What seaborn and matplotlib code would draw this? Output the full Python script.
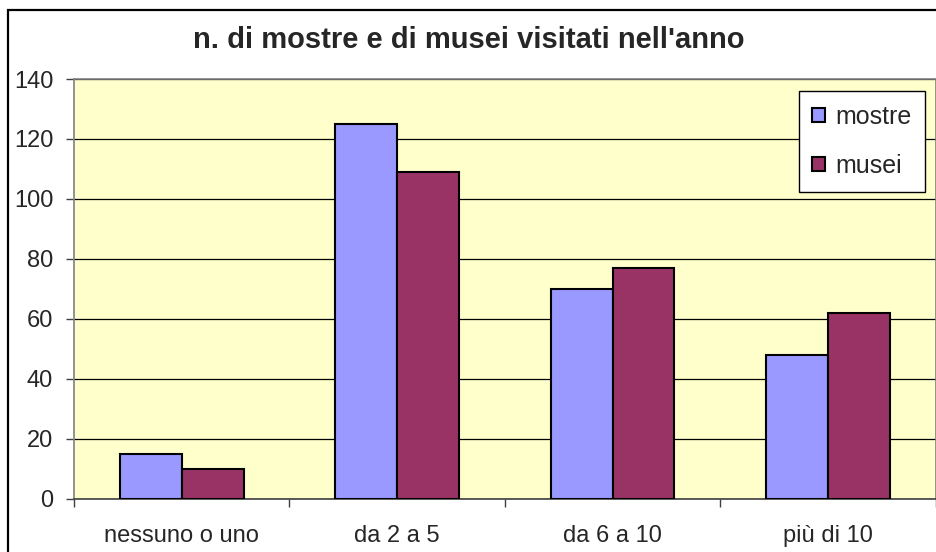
import numpy as np
import pandas as pd
import matplotlib
matplotlib.use("Agg")
import matplotlib.pyplot as plt
import matplotlib.patches as mpatches
import seaborn as sns

# data
categories = ["nessuno o uno", "da 2 a 5", "da 6 a 10", "più di 10"]
mostre = [15, 125, 70, 48]
musei = [10, 109, 77, 62]
series_names = ["mostre", "musei"]
y_ticks = [0, 20, 40, 60, 80, 100, 120, 140]

sns.set_style("white")
plt.rcParams['font.family'] = ['Liberation Sans', 'DejaVu Sans']

df = pd.DataFrame({
    'categoria': categories * 2,
    'valore': mostre + musei,
    'serie': [series_names[0]] * len(categories) + [series_names[1]] * len(categories),
})

W, H = 937, 552
fig = plt.figure(figsize=(W / 100, H / 100), dpi=100)
ax = fig.add_axes([74 / W, 1 - 498.7 / H, (935.7 - 74) / W, (498.7 - 79) / H])

# outer chart frame (Excel style)
fig.patches.append(mpatches.Rectangle((8 / W, -0.05), 1.2, 1 - 10 / H + 0.05,
                                      transform=fig.transFigure, fill=False,
                                      edgecolor='black', linewidth=1.6))

ax.set_facecolor('#FFFFCC')
sns.barplot(data=df, x='categoria', y='valore', hue='serie', ax=ax,
            palette=['#9999FF', '#993366'], edgecolor='black', linewidth=1.5,
            width=0.575, saturation=1, zorder=3)

ax.set_xlim(-0.5, len(categories) - 0.5)
ax.set_ylim(0, 140)
ax.set_yticks(y_ticks)
ax.yaxis.grid(True, color='black', linewidth=0.9, zorder=0)
ax.set_axisbelow(True)
ax.set_xlabel('')
ax.set_ylabel('')

for s in ax.spines.values():
    s.set_color('#808080')
    s.set_linewidth(1.2)
ax.spines['bottom'].set_color('#404040')

ax.tick_params(axis='y', direction='out', length=6, width=1, color='#404040',
               labelsize=17, pad=9, left=True)
ax.set_xticks(range(len(categories)))
ax.set_xticklabels(categories)
ax.set_xticks(np.arange(-0.5, len(categories)), minor=True)
ax.tick_params(axis='x', which='major', length=0, labelsize=17, pad=19)
ax.tick_params(axis='x', which='minor', direction='out', length=6, width=1,
               color='#404040', bottom=True)

leg = ax.legend(loc='upper left', bbox_to_anchor=(0.841, 0.971), frameon=True,
                fancybox=False, edgecolor='black', framealpha=1, fontsize=18,
                handlelength=0.5, handleheight=0.5, handletextpad=0.4,
                labelspacing=1.0, borderpad=0.55, borderaxespad=0)
leg.get_frame().set_linewidth(1.0)

fig.text(0.5, 1 - 40 / H, "n. di mostre e di musei visitati nell'anno",
         ha='center', va='center', fontsize=21, fontweight='bold')

fig.savefig('out.png', dpi=100)
